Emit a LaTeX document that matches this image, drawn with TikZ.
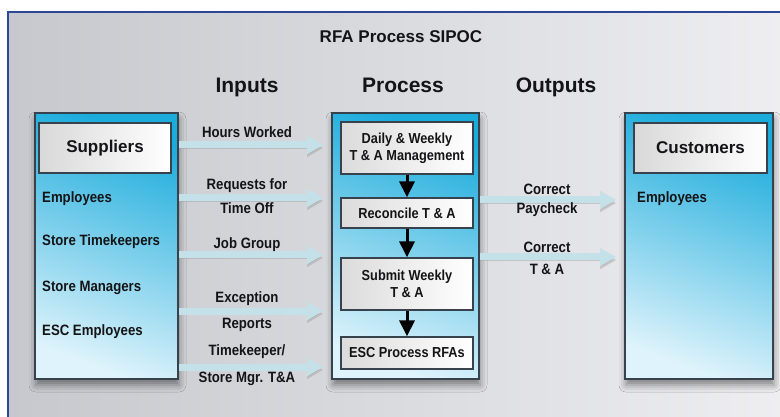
\documentclass[tikz,border=0pt]{standalone}
\usepackage{fontspec}
\setmainfont{Liberation Sans}
\newfontfamily\narrowfont[FakeStretch=0.88]{Liberation Sans}
\usetikzlibrary{arrows.meta,positioning,shadows.blur}
\definecolor{boxblue}{RGB}{28,172,220}
\definecolor{boxpale}{RGB}{222,243,251}
\definecolor{edgec}{RGB}{56,66,76}
\definecolor{bandc}{RGB}{196,224,233}
\definecolor{framec}{RGB}{46,70,150}
\definecolor{bgdark}{RGB}{198,200,205}
\definecolor{bglight}{RGB}{238,238,241}
\definecolor{inkc}{RGB}{20,20,22}
\tikzset{
    %Define standard arrow tip
    >={Triangle[width=17pt,length=16pt]},
    %Define style for the big column boxes
    column/.style={
           rectangle,
           draw=edgec, line width=1.6pt,
           top color=boxblue, bottom color=boxpale,
           shading angle=-20,
           blur shadow={shadow xshift=1pt, shadow yshift=-6pt,
                        shadow blur radius=7pt, shadow opacity=45}},
    %Define style for the white title boxes
    header/.style={
           rectangle,
           draw=edgec, line width=1.2pt,
           left color=gray!30, right color=white,
           text=inkc,
           font=\fontsize{17}{20}\selectfont\bfseries},
    stage/.style={
           rectangle,
           draw=edgec, line width=1.2pt,
           left color=gray!28, right color=white,
           minimum width=132pt,
           align=center, text=inkc,
           font=\narrowfont\fontsize{14.5}{17}\selectfont\bfseries},
    item/.style={anchor=base west, text=inkc, inner sep=0pt,
           font=\narrowfont\fontsize{15}{17}\selectfont\bfseries},
    lbl/.style={anchor=base, text=inkc, inner sep=0pt,
           font=\narrowfont\fontsize{15}{17}\selectfont\bfseries},
    colhead/.style={anchor=base, text=inkc, inner sep=0pt,
           font=\fontsize{21}{24}\selectfont\bfseries},
    % Define arrow styles
    band/.style={
           ->, line width=7pt, draw=bandc,
           preaction={draw=gray!75, opacity=.45,
                      transform canvas={yshift=-3pt}}},
    down/.style={-{Triangle[width=15pt,length=16pt]}, line width=3pt, black}
}

\begin{document}
\begin{tikzpicture}[x=1pt,y=-1pt]
\useasboundingbox (0,0) rectangle (780,417);
% page and frame
\fill[white] (0,0) rectangle (780,417);
\fill[left color=bgdark, right color=bglight] (8,12) rectangle (780,417);
\draw[framec, line width=1.5pt] (8,417) -- (8,12) -- (780,12);

\node[anchor=base, text=inkc, inner sep=0pt, font=\fontsize{17}{20}\selectfont\bfseries]
      (ttl) at (401,43) {RFA Process SIPOC};
\node[colhead] (hin) at (247,93) {Inputs};
\node[colhead] (hpr) at (403,93) {Process};
\node[colhead] (hout) at (556,93) {Outputs};

% suppliers column
\node[column, minimum width=143pt, minimum height=266pt] (sup) at (106.5,246) {};
\node[header, minimum width=132pt, minimum height=50pt] (suph) at (105,148) {Suppliers};
\node[item] (s1) at (42,203) {Employees};
\node[item] (s2) at (42,246) {Store Timekeepers};
\node[item] (s3) at (42,291) {Store Managers};
\node[item] (s4) at (42,335) {ESC Employees};

% process column
\node[column, minimum width=147pt, minimum height=266pt] (proc) at (405.5,246) {};
\node[stage, minimum height=52pt] (p1) at (407,148) {Daily \& Weekly\\T \& A Management};
\node[stage, minimum height=30pt] (p2) at (407,213) {Reconcile T \& A};
\node[stage, minimum height=52pt] (p3) at (407,284) {Submit Weekly\\T \& A};
\node[stage, minimum height=32pt] (p4) at (407,353) {ESC Process RFAs};
\draw[down] (p1) -- (p2);
\draw[down] (p2) -- (p3);
\draw[down] (p3) -- (p4);

% customers column
\node[column, minimum width=148pt, minimum height=266pt] (cust) at (699,246) {};
\node[header, minimum width=133pt, minimum height=50pt] (custh) at (700.5,148) {Customers};
\node[item] (c1) at (637,203) {Employees};

% inputs
\draw[band] (sup.east |- 0,145) -- ([xshift=-8pt]proc.west |- 0,145);
\draw[band] (sup.east |- 0,198) -- ([xshift=-8pt]proc.west |- 0,198);
\draw[band] (sup.east |- 0,255) -- ([xshift=-8pt]proc.west |- 0,255);
\draw[band] (sup.east |- 0,311) -- ([xshift=-8pt]proc.west |- 0,311);
\draw[band] (sup.east |- 0,367) -- ([xshift=-8pt]proc.west |- 0,367);
\node[lbl] (i1) at (247,138) {Hours Worked};
\node[lbl] (i2a) at (247,190) {Requests for};
\node[lbl] (i2b) at (247,214) {Time Off};
\node[lbl] (i3) at (247,249) {Job Group};
\node[lbl] (i4a) at (247,302) {Exception};
\node[lbl] (i4b) at (247,328) {Reports};
\node[lbl] (i5a) at (247,355) {Timekeeper/};
\node[lbl] (i5b) at (247,382) {Store Mgr. T\&A};

% outputs
\draw[band] (proc.east |- 0,200) -- ([xshift=-8pt]cust.west |- 0,200);
\draw[band] (proc.east |- 0,257) -- ([xshift=-8pt]cust.west |- 0,257);
\node[lbl] (o1a) at (547,195) {Correct};
\node[lbl] (o1b) at (547,214) {Paycheck};
\node[lbl] (o2a) at (547,252) {Correct};
\node[lbl] (o2b) at (547,275) {T \& A};
\end{tikzpicture}
\end{document}
